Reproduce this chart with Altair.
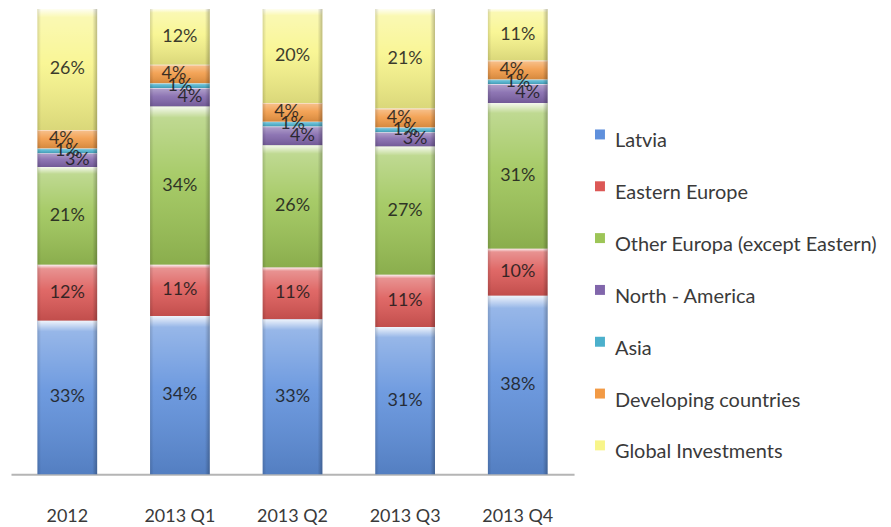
import altair as alt
import pandas as pd

periods = ["2012", "2013 Q1", "2013 Q2", "2013 Q3", "2013 Q4"]
series = [
    "Latvia",
    "Eastern Europe",
    "Other Europa (except Eastern)",
    "North - America",
    "Asia",
    "Developing countries",
    "Global Investments",
]
latvia = [33, 34, 33, 31, 38]
eastern_europe = [12, 11, 11, 11, 10]
other_europe = [21, 34, 26, 27, 31]
north_america = [3, 4, 4, 3, 4]
asia = [1, 1, 1, 1, 1]
developing = [4, 4, 4, 4, 4]
global_inv = [26, 12, 20, 21, 11]

colors = ["#5f90dc", "#dc5856", "#9dc557", "#8166ab", "#4cb0cc", "#f29a45", "#f8f58a"]

values = [latvia, eastern_europe, other_europe, north_america, asia, developing, global_inv]
rows = []
for si, (name, vals) in enumerate(zip(series, values)):
    for p, v in zip(periods, vals):
        rows.append({"period": p, "series": name, "idx": si, "value": v})
df = pd.DataFrame(rows)

FONT = "Lato"

x_enc = alt.X(
    "period:N",
    sort=periods,
    scale=alt.Scale(paddingInner=0.47, paddingOuter=0.235),
    axis=alt.Axis(
        title=None,
        labelAngle=0,
        ticks=False,
        domainColor="#b5b5b5",
        domainWidth=2,
        labelFont=FONT,
        labelFontSize=18,
        labelColor="#3a3a3a",
        labelPadding=33,
    ),
)
y_scale = alt.Scale(domain=[0, 1], nice=False, zero=True)

base = alt.Chart(df).encode(x=x_enc)

bars = base.mark_bar(strokeWidth=0).encode(
    y=alt.Y("value:Q", stack="normalize", scale=y_scale, axis=None),
    color=alt.Color(
        "series:N",
        scale=alt.Scale(domain=series, range=colors),
        legend=alt.Legend(
            title=None,
            orient="none",
            legendX=581,
            legendY=123,
            padding=0,
            labelFont=FONT,
            labelFontSize=20,
            labelColor="#3a3a3a",
            labelOffset=5,
            symbolType="M-0.5,-1.2H0.5V-0.2H-0.5Z",
            symbolSize=400,
            symbolStrokeWidth=0,
            rowPadding=30,
            labelLimit=400,
        ),
    ),
    order=alt.Order("idx:Q", sort="ascending"),
)

vgrad = alt.LinearGradient(
    gradient="linear",
    x1=0, x2=0, y1=0, y2=1,
    stops=[
        alt.GradientStop(offset=0, color="rgba(255,255,255,0.9)"),
        alt.GradientStop(offset=0.07, color="rgba(255,255,255,0.35)"),
        alt.GradientStop(offset=0.45, color="rgba(255,255,255,0.1)"),
        alt.GradientStop(offset=1, color="rgba(0,0,0,0.12)"),
    ],
)
hgrad = alt.LinearGradient(
    gradient="linear",
    x1=0, x2=1, y1=0, y2=0,
    stops=[
        alt.GradientStop(offset=0, color="rgba(0,0,0,0.14)"),
        alt.GradientStop(offset=0.06, color="rgba(0,0,0,0)"),
        alt.GradientStop(offset=0.92, color="rgba(0,0,0,0)"),
        alt.GradientStop(offset=1, color="rgba(0,0,0,0.25)"),
    ],
)

shade_v = base.mark_bar(fill=vgrad, strokeWidth=0).encode(
    y=alt.Y("value:Q", stack="normalize", scale=y_scale, axis=None),
    detail="series:N",
    order=alt.Order("idx:Q", sort="ascending"),
)
shade_h = base.mark_bar(fill=hgrad, strokeWidth=0).encode(
    y=alt.Y("value:Q", stack="normalize", scale=y_scale, axis=None),
    detail="series:N",
    order=alt.Order("idx:Q", sort="ascending"),
)

stacked = base.transform_stack(
    stack="value",
    as_=["y0", "y1"],
    groupby=["period"],
    sort=[alt.SortField("idx", order="ascending")],
    offset="normalize",
).transform_calculate(
    mid="(datum.y0 + datum.y1) / 2",
    label="datum.value + '%'",
)

text_style = dict(font=FONT, fontSize=18, color="#1a1a1a", opacity=0.85)

labels_main = stacked.transform_filter(
    "datum.series != 'North - America' && datum.series != 'Developing countries'"
).mark_text(**text_style).encode(
    y=alt.Y("mid:Q", scale=y_scale, axis=None),
    text="label:N",
)
labels_dev = stacked.transform_filter(
    "datum.series == 'Developing countries'"
).mark_text(dx=-6, **text_style).encode(
    y=alt.Y("mid:Q", scale=y_scale, axis=None),
    text="label:N",
)
labels_na = stacked.transform_filter(
    "datum.series == 'North - America'"
).mark_text(dx=10, **text_style).encode(
    y=alt.Y("mid:Q", scale=y_scale, axis=None),
    text="label:N",
)

chart = alt.layer(bars, shade_v, shade_h, labels_main, labels_dev, labels_na).properties(
    width=565,
    height=467,
    padding={"left": 3, "top": 0, "right": 5, "bottom": 0},
).configure_view(stroke=None)

chart.save("out.html", embed_options={"renderer": "svg", "actions": False})
